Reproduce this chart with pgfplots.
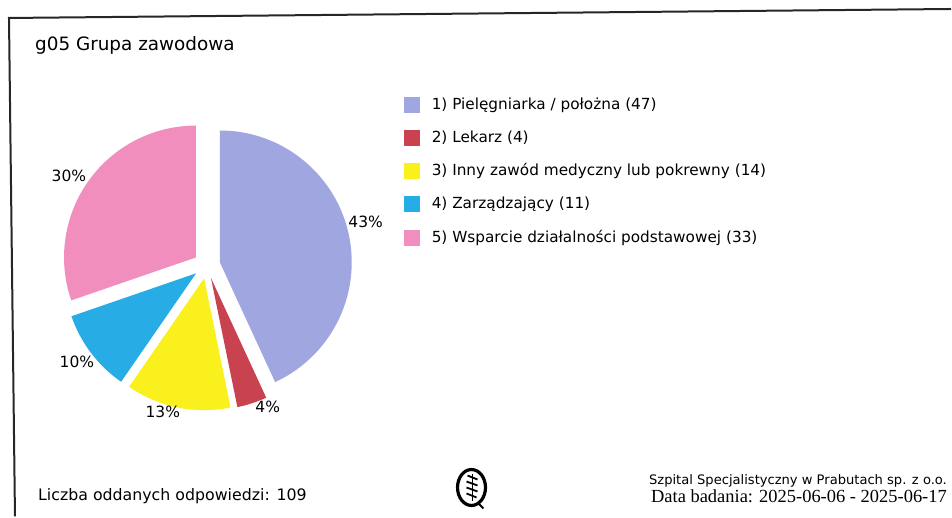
\documentclass[border=0pt]{standalone}
\usepackage{pgfplots}
\pgfplotsset{compat=1.18}
\usepackage{graphicx}
\usepackage{fontspec}
\setmainfont{DejaVu Sans}
\newfontfamily\seriffont{Liberation Serif}
\definecolor{cBlue}{RGB}{160,166,224}
\definecolor{cRed}{RGB}{200,66,80}
\definecolor{cYellow}{RGB}{250,240,30}
\definecolor{cCyan}{RGB}{40,172,230}
\definecolor{cPink}{RGB}{242,142,190}
\tikzset{lblfont/.style={font=\fontsize{15.5bp}{18bp}\selectfont, inner sep=0pt},
         legfont/.style={font=\fontsize{15.3bp}{18bp}\selectfont, inner sep=0pt, anchor=west}}
\begin{document}
\begin{tikzpicture}
\begin{axis}[width=952bp,height=517bp,scale only axis,
  xmin=0,xmax=952,ymin=0,ymax=517,y dir=reverse,hide axis,clip=false]
\path (axis cs:0,0) rectangle (axis cs:952,517);
% frame
\draw[line width=2bp, black!85] (axis cs:15,517) -- (axis cs:9,18) -- (axis cs:952,9);
% title
\node[anchor=west, inner sep=0pt, font=\fontsize{18.4bp}{21bp}\selectfont] at (axis cs:35,45) {g05 Grupa zawodowa};
% pie: value / colour / percent label / label position
\gdef\sa{90}
\foreach \v/\col/\pct/\lx/\ly in {47/cBlue/43/366/222, 4/cRed/4/268/407, 14/cYellow/13/163/412, 11/cCyan/10/77/362, 33/cPink/30/69/176} {
  \pgfmathsetmacro\ea{\sa-\v/109*360}
  \pgfmathsetmacro\mid{(\sa+\ea)/2}
  \edef\temp{\noexpand\fill[\col] (axis cs:207,265.5) ++(\mid:13.4bp) -- ++(\sa:132bp) arc[start angle=\sa, end angle=\ea, radius=132bp] -- cycle;
    \noexpand\node[lblfont] at (axis cs:\lx,\ly) {\pct\noexpand\%};}
  \temp
  \xdef\sa{\ea}
}
% legend
\fill[cBlue]   (axis cs:404,97)  rectangle (axis cs:420,113);
\fill[cRed]    (axis cs:404,130) rectangle (axis cs:420,146);
\fill[cYellow] (axis cs:404,163) rectangle (axis cs:420,179);
\fill[cCyan]   (axis cs:404,196) rectangle (axis cs:420,212);
\fill[cPink]   (axis cs:404,230) rectangle (axis cs:420,246);
\node[legfont] at (axis cs:432,105) {1) Pielęgniarka / położna (47)};
\node[legfont] at (axis cs:432,138) {2) Lekarz (4)};
\node[legfont] at (axis cs:432,171) {3) Inny zawód medyczny lub pokrewny (14)};
\node[legfont] at (axis cs:432,204) {4) Zarządzający (11)};
\node[legfont] at (axis cs:432,238) {5) Wsparcie działalności podstawowej (33)};
% footer
\node[anchor=west, inner sep=0pt, font=\fontsize{15.8bp}{18bp}\selectfont] at (axis cs:38,497) {Liczba oddanych odpowiedzi: 109};
\node[anchor=east, inner sep=0pt] at (axis cs:948,481) {\resizebox{298bp}{!}{\fontsize{12bp}{14bp}\selectfont Szpital Specjalistyczny w Prabutach sp. z o.o.}};
\node[anchor=east, inner sep=0pt] at (axis cs:948,497) {\resizebox{296bp}{!}{\seriffont\fontsize{18.6bp}{20bp}\selectfont Data badania: 2025-06-06 - 2025-06-17}};
% logo
\draw[line width=3.2bp] (axis cs:472,488) ellipse [x radius=14bp, y radius=18bp];
\draw[line width=1.2bp] (axis cs:473,474) -- (axis cs:473,502);
\draw[line width=1.8bp] (axis cs:468,476) -- (axis cs:478,480) (axis cs:467,482) -- (axis cs:478,486) (axis cs:467,488) -- (axis cs:478,492) (axis cs:467,494) -- (axis cs:477,498);
\draw[line width=2bp] (axis cs:478,503) -- (axis cs:484,509);
\end{axis}
\end{tikzpicture}
\end{document}
